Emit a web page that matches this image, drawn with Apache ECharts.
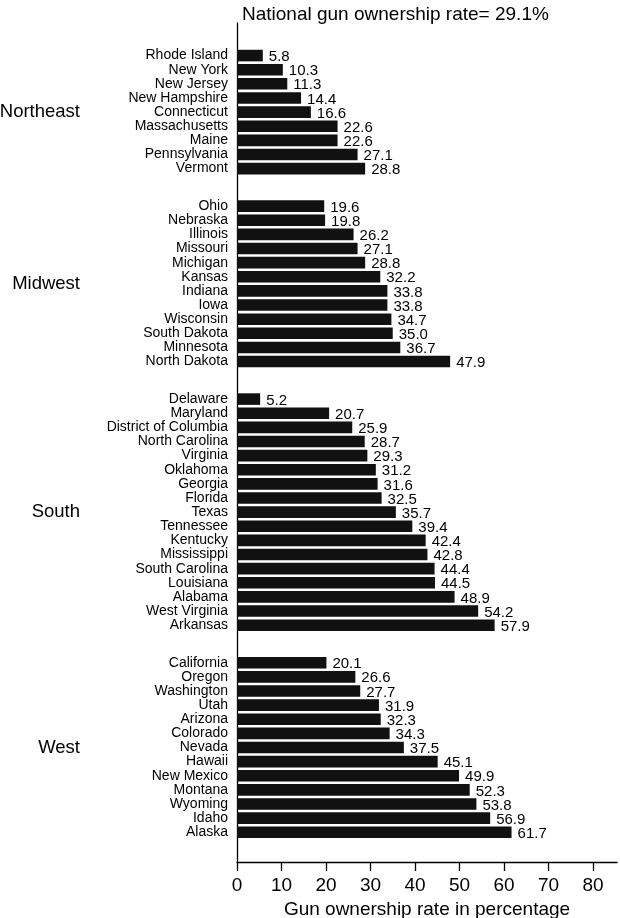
<!DOCTYPE html>
<html>
<head>
<meta charset="utf-8">
<script src="https://cdn.jsdelivr.net/npm/echarts@6/dist/echarts.min.js"></script>
<style>
html,body{margin:0;padding:0;background:#fff;}
#chart{width:620px;height:918px;}
</style>
</head>
<body>
<div id="chart"></div>
<script>
// ---- data ----
const regions = ['Northeast', 'Midwest', 'South', 'West'];

const northeastStates = ['Rhode Island','New York','New Jersey','New Hampshire','Connecticut','Massachusetts','Maine','Pennsylvania','Vermont'];
const northeastRates  = [5.8, 10.3, 11.3, 14.4, 16.6, 22.6, 22.6, 27.1, 28.8];

const midwestStates = ['Ohio','Nebraska','Illinois','Missouri','Michigan','Kansas','Indiana','Iowa','Wisconsin','South Dakota','Minnesota','North Dakota'];
const midwestRates  = [19.6, 19.8, 26.2, 27.1, 28.8, 32.2, 33.8, 33.8, 34.7, 35.0, 36.7, 47.9];

const southStates = ['Delaware','Maryland','District of Columbia','North Carolina','Virginia','Oklahoma','Georgia','Florida','Texas','Tennessee','Kentucky','Mississippi','South Carolina','Louisiana','Alabama','West Virginia','Arkansas'];
const southRates  = [5.2, 20.7, 25.9, 28.7, 29.3, 31.2, 31.6, 32.5, 35.7, 39.4, 42.4, 42.8, 44.4, 44.5, 48.9, 54.2, 57.9];

const westStates = ['California','Oregon','Washington','Utah','Arizona','Colorado','Nevada','Hawaii','New Mexico','Montana','Wyoming','Idaho','Alaska'];
const westRates  = [20.1, 26.6, 27.7, 31.9, 32.3, 34.3, 37.5, 45.1, 49.9, 52.3, 53.8, 56.9, 61.7];

const xTicks = [0, 10, 20, 30, 40, 50, 60, 70, 80];
const titleText = 'National gun ownership rate= 29.1%';
const xAxisName = 'Gun ownership rate in percentage';

// ---- layout ----
const groups = [
  {name: regions[0], states: northeastStates, rates: northeastRates},
  {name: regions[1], states: midwestStates, rates: midwestRates},
  {name: regions[2], states: southStates, rates: southRates},
  {name: regions[3], states: westStates, rates: westRates}
];
const FONT = '"Liberation Sans", Arial, Helvetica, sans-serif';
const AX_LEFT = 237, AX_RIGHT = 3;
const X_MAX = 85.4;
const ROW = 14.13, GAP = 23.4, FIRST_TOP = 48.5;

const grids = [], xAxes = [], yAxes = [], series = [];
let gridTop = FIRST_TOP;
groups.forEach((g, i) => {
  const h = g.states.length * ROW;
  grids.push({left: AX_LEFT, right: AX_RIGHT, top: gridTop, height: h, outerBoundsMode: 'none', containLabel: false});
  gridTop += h + GAP;
  xAxes.push({gridIndex: i, type: 'value', min: 0, max: X_MAX, show: false, splitLine: {show: false}});
  yAxes.push({
    gridIndex: i, type: 'category', inverse: true, data: g.states,
    axisLine: {show: false}, axisTick: {show: false}, splitLine: {show: false},
    axisLabel: {color: '#000', fontSize: 14, fontFamily: FONT, margin: 9, interval: 0, hideOverlap: false},
    name: g.name, nameLocation: 'middle', nameRotate: 0, nameGap: 157,
    nameTextStyle: {color: '#000', fontSize: 18.5, fontFamily: FONT, align: 'right', verticalAlign: 'middle'},
    nameMoveOverlap: false
  });
  series.push({
    type: 'bar', xAxisIndex: i, yAxisIndex: i, data: g.rates,
    barCategoryGap: '18%',
    itemStyle: {color: '#111'},
    label: {show: true, position: 'right', distance: 6, offset: [0, 1.5], color: '#000', fontSize: 15, fontFamily: FONT,
            formatter: p => Number(p.value).toFixed(1)},
    silent: true
  });
});

// overlay grid holding the full-height axes
grids.push({left: AX_LEFT, right: AX_RIGHT, top: 23, bottom: 56, outerBoundsMode: 'none', containLabel: false});
xAxes.push({
  gridIndex: 4, type: 'value', min: 0, max: X_MAX,
  axisLine: {show: true, lineStyle: {color: '#000', width: 1.3}},
  axisTick: {show: true, length: 9, lineStyle: {color: '#000', width: 1.3}, customValues: xTicks},
  axisLabel: {color: '#000', fontSize: 19, fontFamily: FONT, margin: 14, customValues: xTicks},
  splitLine: {show: false},
  name: xAxisName, nameLocation: 'middle', nameGap: 35,
  nameTextStyle: {color: '#000', fontSize: 19, fontFamily: FONT}
});
yAxes.push({
  gridIndex: 4, type: 'value', min: 0, max: 1,
  axisLine: {show: true, onZero: false, lineStyle: {color: '#000', width: 1.3}},
  axisTick: {show: false}, axisLabel: {show: false}, splitLine: {show: false}
});

const chart = echarts.init(document.getElementById('chart'), null, {renderer: 'canvas'});
chart.setOption({
  backgroundColor: '#fff',
  animation: false,
  title: {
    text: titleText, left: 237, top: 0,
    textStyle: {color: '#000', fontSize: 19, fontWeight: 'normal', fontFamily: FONT}
  },
  grid: grids,
  xAxis: xAxes,
  yAxis: yAxes,
  series: series
});
</script>
</body>
</html>
